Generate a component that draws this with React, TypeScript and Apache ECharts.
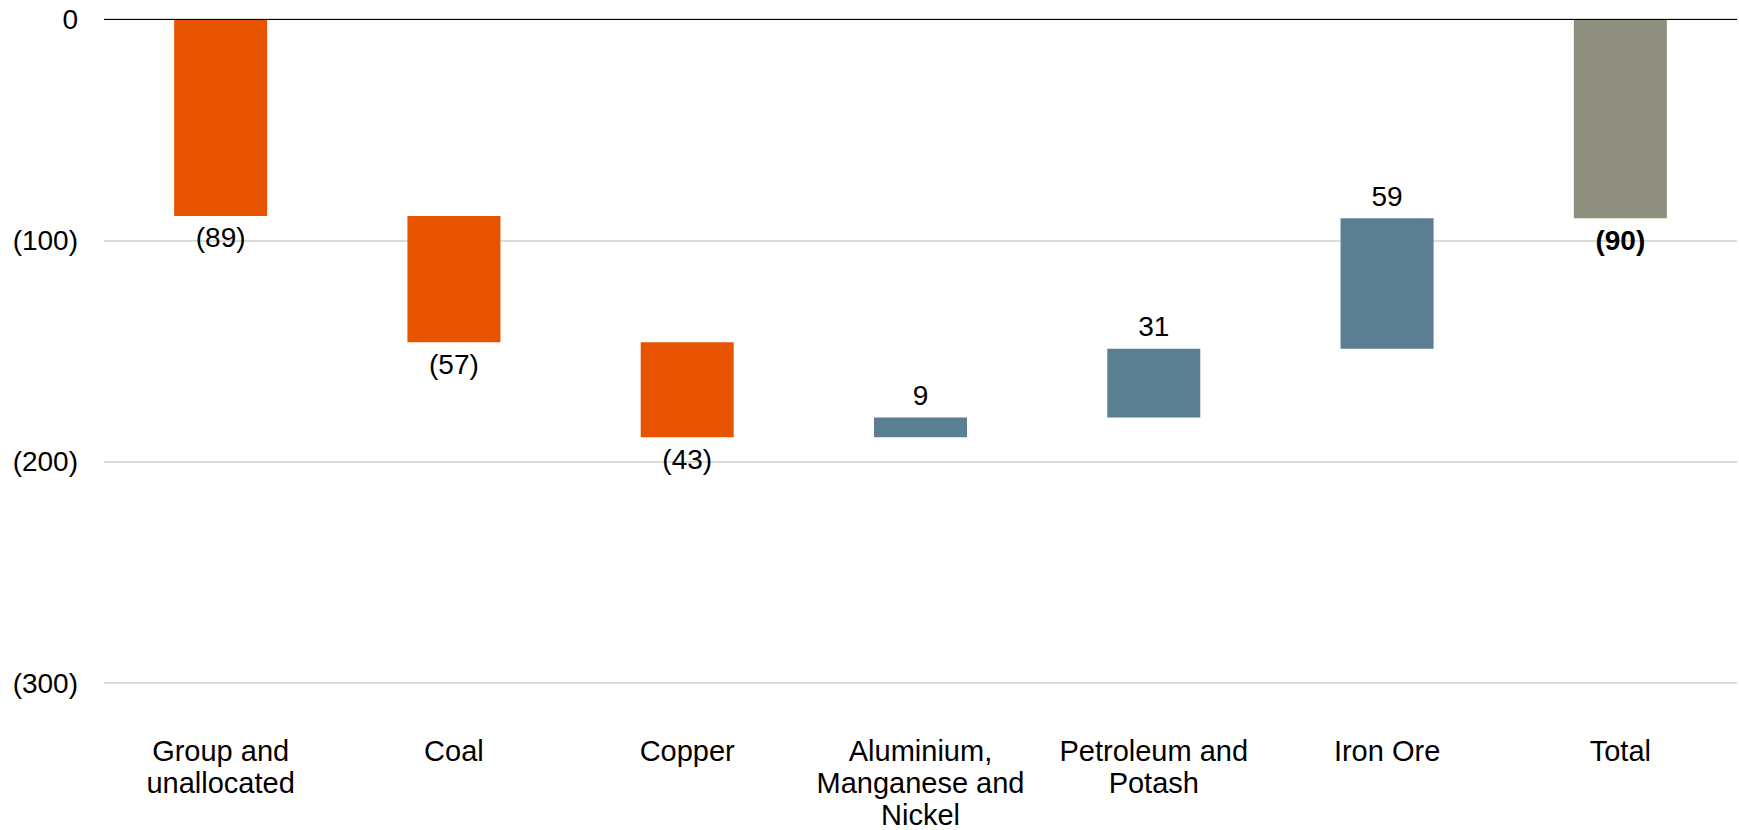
import React, { useEffect, useRef } from "react";
import * as echarts from "echarts";

const categories = [
  "Group and\nunallocated",
  "Coal",
  "Copper",
  "Aluminium,\nManganese and\nNickel",
  "Petroleum and\nPotash",
  "Iron Ore",
  "Total",
];
const deltas = [-89, -57, -43, 9, 31, 59];
const totalValue = -90;
const yTicks = { min: -300, max: 0, interval: 100 };

const ORANGE = "#E85300";
const BLUE = "#5B7F92";
const GREY = "#8F8F7F";

export default function App() {
  const ref = useRef<HTMLDivElement>(null);
  useEffect(() => {
    if (!ref.current) return;
    const chart = echarts.init(ref.current, undefined, { renderer: "svg" });

    const base: number[] = [];
    const visible: any[] = [];
    let cum = 0;
    deltas.forEach((d) => {
      const before = cum;
      const after = cum + d;
      const upper = Math.max(before, after);
      const lower = Math.min(before, after);
      base.push(upper);
      visible.push({
        value: lower - upper,
        raw: d,
        itemStyle: { color: d < 0 ? ORANGE : BLUE },
        label: { position: d < 0 ? "bottom" : "top" },
      });
      cum = after;
    });
    base.push(0);
    visible.push({
      value: totalValue,
      raw: totalValue,
      itemStyle: { color: GREY },
      label: { position: "bottom", fontWeight: "bold" },
    });

    const fmt = (v: number) => (v < 0 ? `(${-v})` : `${v}`);
    const font = "'Liberation Sans', Arial, sans-serif";

    chart.setOption({
      animation: false,
      backgroundColor: "#ffffff",
      grid: {
        left: 104,
        right: 2,
        top: 19,
        bottom: 147,
        containLabel: false,
        outerBoundsMode: "none",
      },
      xAxis: {
        type: "category",
        data: categories,
        position: "bottom",
        axisLine: { show: false, onZero: false },
        axisTick: { show: false },
        axisLabel: {
          interval: 0,
          margin: 52,
          color: "#000",
          fontFamily: font,
          fontSize: 29,
          lineHeight: 32,
          align: "center",
        },
      },
      yAxis: {
        type: "value",
        min: yTicks.min,
        max: yTicks.max,
        interval: yTicks.interval,
        axisLine: { show: false },
        axisTick: { show: false },
        axisLabel: {
          margin: 26,
          color: "#000",
          fontFamily: font,
          fontSize: 28,
          formatter: (v: number) => fmt(v),
        },
        splitLine: { lineStyle: { color: "#D0D0C8", width: 1.5 } },
      },
      series: [
        {
          type: "bar",
          stack: "wf",
          data: base,
          barWidth: 93,
          itemStyle: { color: "transparent" },
          emphasis: { disabled: true },
          silent: true,
          markLine: {
            silent: true,
            symbol: "none",
            label: { show: false },
            lineStyle: { color: "#000", width: 1.2, type: "solid" },
            data: [{ yAxis: 0 }],
          },
        },
        {
          type: "bar",
          stack: "wf",
          data: visible,
          barWidth: 93,
          label: {
            show: true,
            distance: 8,
            color: "#000",
            fontFamily: font,
            fontSize: 28,
            formatter: (p: any) => fmt(p.data.raw),
          },
        },
      ],
    });
    return () => chart.dispose();
  }, []);
  return (
    <div
      ref={ref}
      style={{ position: "fixed", left: 0, top: 0, width: 1739, height: 830 }}
    />
  );
}
